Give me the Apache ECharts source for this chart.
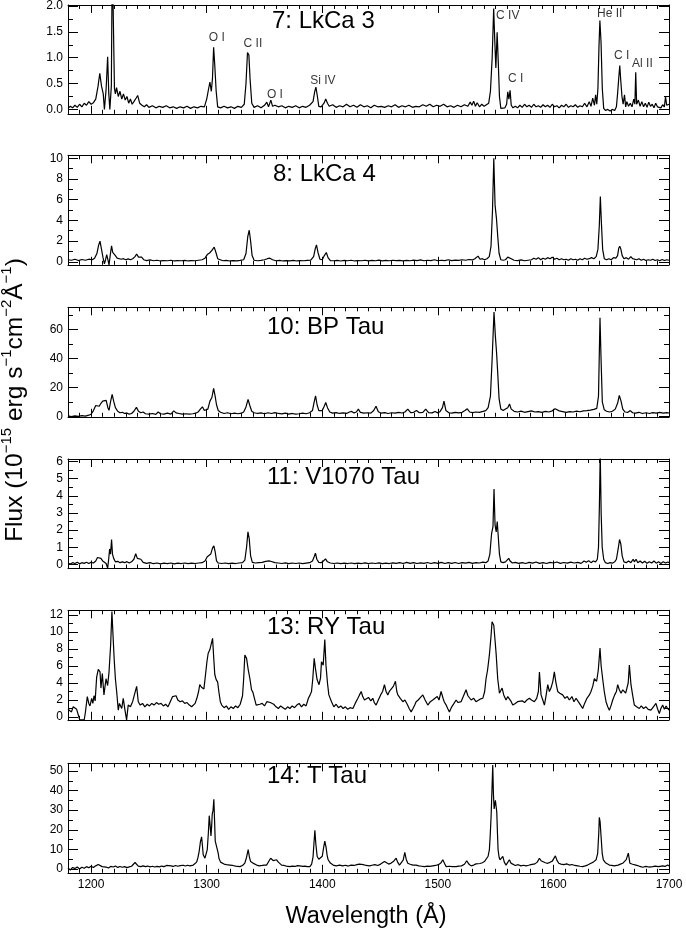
<!DOCTYPE html>
<html>
<head>
<meta charset="utf-8">
<title>FUV spectra</title>
<script src="https://cdn.jsdelivr.net/npm/echarts@6/dist/echarts.min.js"></script>
<style>
html, body { margin: 0; padding: 0; background: #fff; }
#chart { width: 686px; height: 933px; }
</style>
</head>
<body>
<div id="chart"></div>
<script>
// spectra: [wavelength (A), flux (1e-15 erg/s/cm2/A)]
const lkca3 = [
  [1180,0.02],[1182,0.06],[1184,0.03],[1186,0.08],[1188,0.04],[1190,0.1],[1192,0.05],[1194,0.12],[1196,0.08],[1198,0.15],
  [1200,0.1],[1202,0.13],[1204,0.2],[1206,0.45],[1207.5,0.7],[1209,0.45],[1210.5,0.3],[1211.5,0.0],[1213,0.4],[1214.3,1.02],
  [1215.3,0.3],[1216.2,0.0],[1217.5,0.45],[1218.3,3.0],[1219.3,3.0],[1220.2,0.4],[1221,0.3],[1222,0.42],[1223.5,0.25],[1225,0.35],
  [1226.5,0.2],[1228,0.3],[1229.5,0.18],[1231,0.25],[1232.5,0.12],[1234,0.2],[1235.5,0.1],[1237,0.15],[1239,0.22],[1240.3,0.27],
  [1242,0.12],[1244,0.08],[1246,0.05],[1248,0.09],[1250,0.04],[1253,0.07],[1256,0.03],[1259,0.06],[1262,0.04],[1265,0.07],
  [1268,0.03],[1271,0.05],[1274,0.02],[1277,0.05],[1280,0.03],[1283,0.06],[1286,0.02],[1289,0.05],[1292,0.03],[1295,0.06],
  [1298,0.05],[1300,0.2],[1301.5,0.38],[1302.8,0.53],[1304,0.35],[1305,0.6],[1306,1.2],[1307,0.85],[1308.2,0.35],[1309.5,0.05],
  [1312,0.03],[1315,0.06],[1318,0.03],[1321,0.05],[1324,0.02],[1327,0.06],[1330,0.04],[1332.5,0.1],[1334,0.5],[1335.3,1.1],
  [1336.5,1.05],[1337.5,0.6],[1339,0.12],[1341,0.04],[1344,0.07],[1347,0.03],[1350,0.08],[1352,0.14],[1353.5,0.05],[1355.5,0.18],
  [1357,0.06],[1359,0.08],[1362,0.05],[1365,0.07],[1368,0.03],[1371,0.06],[1374,0.04],[1377,0.07],[1380,0.03],[1383,0.06],
  [1386,0.04],[1389,0.08],[1392,0.15],[1393.5,0.35],[1394.5,0.43],[1395.8,0.25],[1397,0.06],[1399,0.05],[1401.5,0.12],[1403,0.2],
  [1404.5,0.12],[1406,0.06],[1409,0.09],[1412,0.04],[1415,0.07],[1418,0.05],[1421,0.1],[1424,0.05],[1427,0.08],[1430,0.04],
  [1433,0.09],[1436,0.05],[1439,0.07],[1442,0.03],[1445,0.08],[1448,0.05],[1451,0.06],[1454,0.04],[1457,0.07],[1460,0.05],
  [1463,0.09],[1466,0.04],[1469,0.07],[1472,0.05],[1475,0.08],[1478,0.04],[1481,0.06],[1484,0.05],[1487,0.09],[1490,0.06],
  [1493,0.1],[1496,0.05],[1499,0.08],[1502,0.06],[1505,0.1],[1508,0.05],[1511,0.07],[1514,0.04],[1517,0.08],[1520,0.05],
  [1523,0.09],[1526,0.06],[1528,0.14],[1529.5,0.08],[1531,0.16],[1532.5,0.06],[1534,0.13],[1536,0.05],[1538,0.1],[1540,0.06],
  [1542,0.09],[1544,0.12],[1545.5,0.35],[1547,1.0],[1548.3,1.95],[1549.3,1.3],[1550.2,0.8],[1551.3,1.49],[1552.3,0.9],[1553.3,0.25],
  [1554.5,0.02],[1556,0.04],[1558,0.03],[1559.5,0.1],[1560.5,0.34],[1561.5,0.2],[1562.5,0.37],[1563.5,0.08],[1565,0.03],[1567,0.06],
  [1569,0.03],[1571,0.08],[1573,0.04],[1575,0.1],[1577,0.05],[1579,0.08],[1581,0.04],[1583,0.1],[1585,0.05],[1587,0.07],
  [1589,0.04],[1591,0.09],[1593,0.05],[1595,0.08],[1597,0.04],[1599,0.1],[1601,0.05],[1603,0.07],[1605,0.03],[1607,0.08],
  [1609,0.05],[1611,0.1],[1613,0.04],[1615,0.07],[1617,0.05],[1619,0.09],[1621,0.04],[1623,0.07],[1625,0.05],[1627,0.12],
  [1629,0.05],[1631,0.15],[1632.5,0.06],[1634,0.22],[1635.5,0.08],[1636.5,0.28],[1637.5,0.1],[1638.5,0.4],[1639.4,1.2],[1640.2,1.72],
  [1641.2,1.3],[1642.3,0.4],[1643.5,0.02],[1645,-0.02],[1647,0.0],[1649,-0.03],[1651,0.0],[1653,-0.02],[1654.5,0.05],[1655.5,0.3],
  [1656.5,0.6],[1657.4,0.85],[1658.3,0.55],[1659.3,0.25],[1660.3,0.1],[1661.5,0.28],[1662.5,0.05],[1663.5,0.15],[1665,0.06],[1666.5,0.12],
  [1668,0.05],[1669.5,0.2],[1670.5,0.1],[1671.2,0.72],[1672,0.1],[1673.5,0.18],[1675,0.06],[1676.5,0.15],[1678,0.05],[1679.5,0.12],
  [1681,0.04],[1682.5,0.14],[1684,0.06],[1685.5,0.1],[1687,0.03],[1688.5,0.12],[1690,0.05],[1691.5,0.08],[1693,0.03],[1694.5,0.09],
  [1696,0.05],[1697,0.25],[1698,0.08],[1700,0.1]
];
const lkca4 = [
  [1180,0.2],[1183,0.15],[1186,0.25],[1189,0.12],[1192,0.22],[1195,0.15],[1198,0.25],[1201,0.2],[1203,0.35],[1205,0.8],
  [1206.5,1.6],[1207.7,2.0],[1209,1.2],[1210.3,0.4],[1211.5,-0.2],[1212.5,0.2],[1213.5,0.7],[1214.5,0.2],[1215.5,-0.3],[1216.5,0.6],
  [1217.7,1.55],[1218.7,0.9],[1219.8,1.0],[1221,0.6],[1222.5,0.35],[1224,0.4],[1226,0.25],[1228,0.3],[1230,0.2],[1232,0.28],
  [1234,0.2],[1236,0.3],[1238,0.5],[1239.4,0.75],[1241,0.45],[1242.5,0.35],[1243.7,0.45],[1245.5,0.2],[1248,0.12],[1251,0.18],
  [1254,0.1],[1257,0.15],[1260,0.08],[1263,0.12],[1266,0.1],[1269,0.15],[1272,0.08],[1275,0.12],[1278,0.1],[1281,0.14],
  [1284,0.08],[1287,0.12],[1290,0.1],[1293,0.15],[1296,0.2],[1298.5,0.35],[1300.5,0.7],[1302.5,0.85],[1304.5,1.1],[1306.5,1.42],
  [1308,0.9],[1309.5,0.3],[1311,0.12],[1314,0.1],[1317,0.14],[1320,0.08],[1323,0.12],[1326,0.09],[1329,0.13],[1332,0.2],
  [1334,0.8],[1335.5,2.4],[1336.8,3.05],[1338,2.0],[1339.3,0.6],[1341,0.15],[1344,0.1],[1347,0.14],[1350,0.2],[1352.5,0.3],
  [1354.7,0.35],[1357,0.2],[1360,0.1],[1363,0.14],[1366,0.08],[1369,0.12],[1372,0.09],[1375,0.13],[1378,0.08],[1381,0.12],
  [1384,0.1],[1387,0.14],[1390,0.15],[1392.5,0.5],[1394,1.3],[1395,1.64],[1396.3,0.9],[1398,0.25],[1400,0.2],[1401.8,0.6],
  [1403.5,0.9],[1405,0.4],[1407,0.12],[1410,0.1],[1413,0.14],[1416,0.08],[1419,0.13],[1422,0.1],[1425,0.15],[1428,0.08],
  [1431,0.12],[1434,0.1],[1437,0.15],[1440,0.09],[1443,0.13],[1446,0.1],[1449,0.16],[1452,0.09],[1455,0.13],[1458,0.1],
  [1461,0.15],[1464,0.11],[1467,0.14],[1470,0.09],[1473,0.14],[1476,0.1],[1479,0.16],[1482,0.12],[1485,0.18],[1488,0.1],
  [1491,0.15],[1494,0.12],[1497,0.2],[1500,0.1],[1503,0.15],[1506,0.12],[1509,0.2],[1512,0.12],[1515,0.17],[1518,0.13],
  [1521,0.2],[1524,0.15],[1527,0.22],[1530,0.18],[1532,0.3],[1534.8,0.55],[1536.5,0.25],[1538.5,0.3],[1540.5,0.2],[1542.5,0.3],
  [1544.5,0.5],[1546,1.5],[1547.3,5.0],[1548.4,10.0],[1549.5,5.5],[1550.7,4.2],[1551.8,2.5],[1553,0.8],[1554.5,0.2],[1556.5,0.15],
  [1558.5,0.2],[1560.5,0.45],[1562,0.6],[1563.5,0.3],[1566,0.15],[1569,0.12],[1572,0.18],[1575,0.1],[1578,0.15],[1581,0.2],
  [1583,0.35],[1585,0.25],[1587,0.4],[1589,0.2],[1591,0.35],[1593,0.25],[1595,0.4],[1597,0.3],[1599,0.45],[1601,0.25],
  [1603,0.35],[1605,0.2],[1607,0.3],[1609,0.2],[1611,0.25],[1613,0.15],[1615,0.3],[1617,0.2],[1619,0.25],[1621,0.15],
  [1623,0.3],[1625,0.2],[1627,0.35],[1629,0.25],[1631,0.3],[1633,0.4],[1635,0.3],[1637,0.5],[1638.5,1.2],[1639.7,3.5],
  [1640.6,6.3],[1641.5,3.8],[1642.6,1.2],[1644,0.3],[1646,0.2],[1648,0.3],[1650,0.2],[1652,0.4],[1654,0.35],[1655.5,0.6],
  [1656.5,1.3],[1657.4,1.5],[1658.3,1.25],[1659.5,0.6],[1661,0.3],[1663,0.4],[1665,0.25],[1667,0.5],[1668.5,0.3],[1670,0.45],
  [1672,0.2],[1674,0.3],[1676,0.15],[1678,0.25],[1680,0.12],[1682,0.2],[1684,0.15],[1686,0.25],[1688,0.12],[1690,0.2],
  [1692,0.1],[1694,0.22],[1696,0.12],[1698,0.2],[1700,0.15]
];
const bpTau = [
  [1180,0.3],[1183,-0.2],[1186,0.4],[1189,0.0],[1192,0.5],[1195,0.2],[1198,0.8],[1200,1.5],[1202,4.0],[1204,7.5],
  [1205.5,8.0],[1207,7.0],[1208.5,9.0],[1210,10.5],[1211.5,11.5],[1213,11.0],[1214.5,6.0],[1215.5,4.2],[1216.8,10],[1218.2,15.2],
  [1219.5,10.5],[1221,6.0],[1223,3.5],[1225,2.5],[1227,2.8],[1229,2.0],[1231,2.2],[1233,1.5],[1235,2.0],[1237,3.5],
  [1239.2,6.2],[1241,3.5],[1243,2.5],[1245,3.0],[1247,1.8],[1250,1.5],[1253,2.0],[1256,1.4],[1258,3.0],[1260,1.8],
  [1263,1.5],[1266,2.2],[1269,1.6],[1271.5,3.8],[1273.5,2.4],[1276,2.0],[1279,1.5],[1282,1.8],[1285,1.5],[1288,1.8],
  [1290.5,2.2],[1292.5,3.0],[1294.5,5.0],[1296.3,6.6],[1298,4.0],[1299.5,3.0],[1301,5.0],[1302.8,10.5],[1304.5,13.0],[1306,19.3],
  [1307.3,14.0],[1308.5,8.0],[1310,4.0],[1312,2.8],[1315,2.0],[1318,2.5],[1321,1.8],[1324,2.2],[1327,1.8],[1330,2.2],
  [1332,3.0],[1334,6.5],[1335.8,11.7],[1337.3,7.5],[1339,3.5],[1341,2.5],[1344,2.0],[1347,2.4],[1350,1.8],[1353,2.5],
  [1356,2.0],[1359,2.6],[1362,2.0],[1365,1.7],[1368,2.2],[1371,1.6],[1374,2.0],[1377,1.5],[1380,1.8],[1383,2.2],
  [1386,1.8],[1389,2.5],[1391.5,4.0],[1393,10.0],[1394.2,14.2],[1395.5,8.0],[1397,4.0],[1398.5,3.0],[1400,4.0],[1401.7,7.0],
  [1403,9.6],[1404.5,6.0],[1406.5,3.0],[1409,2.2],[1412,2.6],[1415,2.0],[1418,2.4],[1421,2.0],[1423.5,3.0],[1425.5,3.4],
  [1427.5,2.4],[1429.5,3.0],[1431.2,5.0],[1433,2.8],[1436,2.2],[1439,2.5],[1442,2.2],[1444.5,4.0],[1446.5,7.0],[1448.5,3.2],
  [1451,2.2],[1454,2.6],[1457,2.0],[1460,2.5],[1463,2.2],[1466,2.8],[1469,2.3],[1471.5,3.0],[1474,5.0],[1476.5,2.6],
  [1479,2.8],[1481.5,4.0],[1484,2.5],[1487,2.7],[1489.5,5.0],[1492,2.6],[1495,2.4],[1497.5,3.4],[1500,2.4],[1502,3.4],
  [1504,6.0],[1505.3,10.5],[1507,4.0],[1509.5,2.5],[1512,2.2],[1515,2.8],[1518,2.4],[1521,2.8],[1523.5,4.0],[1525.5,5.2],
  [1527.5,3.0],[1530,2.6],[1533,3.0],[1536,2.8],[1539,3.4],[1541.5,4.0],[1543.5,6.0],[1545.5,14],[1547,40],[1548.6,72],
  [1549.8,55],[1550.8,44],[1551.8,30],[1553,12],[1554.5,5.0],[1556.5,4.0],[1558.5,5.0],[1560.5,6.0],[1562,8.5],[1563.5,5.0],
  [1566,3.5],[1569,3.0],[1572,3.6],[1575,2.8],[1578,3.3],[1581,3.8],[1584,3.0],[1587,3.3],[1590,2.8],[1593,3.4],
  [1596,3.0],[1599,3.8],[1601.5,5.2],[1603,6.2],[1605,3.8],[1608,3.3],[1611,2.8],[1614,3.3],[1617,3.0],[1620,3.6],
  [1623,3.2],[1626,3.8],[1629,4.0],[1632,4.3],[1635,4.8],[1637.5,5.5],[1639,14],[1640.3,68],[1641.2,40],[1642.3,10],
  [1644,4.5],[1646,3.5],[1648.5,3.0],[1651,3.5],[1653.5,5.0],[1655.5,9.0],[1657,14.5],[1658.5,10.5],[1660,5.0],[1662,3.0],
  [1664.5,2.8],[1666.5,4.0],[1668.5,2.5],[1671,2.2],[1674,2.8],[1677,2.0],[1680,2.5],[1683,2.0],[1686,2.6],[1689,2.2],
  [1692,2.8],[1695,2.2],[1698,2.6],[1700,2.3]
];
const v1070Tau = [
  [1180,0.08],[1182,0.02],[1184,0.1],[1186,0.05],[1188,0.12],[1190,0.03],[1192,0.1],[1194,0.06],[1196,0.13],[1198,0.05],
  [1200,0.12],[1202,0.08],[1204,0.2],[1205.5,0.4],[1207,0.47],[1208.5,0.35],[1210,0.2],[1211.5,0.25],[1213,0.05],[1214.3,-0.22],
  [1215.2,0.3],[1216,0.9],[1216.8,0.6],[1217.7,1.45],[1218.5,0.6],[1219.5,0.35],[1221,0.15],[1223,0.18],[1225,0.1],[1227,0.15],
  [1229,0.1],[1231,0.16],[1233,0.08],[1235,0.15],[1237,0.3],[1238.6,0.62],[1240,0.35],[1241.5,0.25],[1243,0.3],[1245,0.12],
  [1248,0.06],[1251,0.1],[1254,0.04],[1257,0.08],[1260,0.03],[1263,0.07],[1266,0.04],[1269,0.08],[1272,0.03],[1275,0.07],
  [1278,0.05],[1281,0.08],[1284,0.04],[1287,0.07],[1290,0.05],[1293,0.08],[1296,0.1],[1298.5,0.2],[1300.5,0.45],[1302,0.55],
  [1303.5,0.6],[1305,0.95],[1306.2,1.08],[1307.3,0.75],[1308.5,0.2],[1310,0.08],[1313,0.05],[1316,0.08],[1319,0.04],[1322,0.07],
  [1325,0.05],[1328,0.08],[1331,0.1],[1333,0.25],[1334.5,1.0],[1335.7,1.9],[1336.8,1.5],[1338,0.5],[1339.5,0.12],[1342,0.08],
  [1345,0.1],[1348,0.12],[1351,0.18],[1354,0.2],[1356,0.17],[1359,0.1],[1362,0.08],[1365,0.05],[1368,0.09],[1371,0.04],
  [1374,0.08],[1377,0.05],[1380,0.08],[1383,0.04],[1386,0.07],[1389,0.1],[1391.5,0.2],[1393,0.45],[1394.1,0.66],[1395.3,0.3],
  [1397,0.12],[1399,0.1],[1401,0.2],[1402.8,0.32],[1404.5,0.15],[1407,0.08],[1410,0.05],[1413,0.08],[1416,0.04],[1419,0.07],
  [1422,0.05],[1425,0.08],[1428,0.04],[1431,0.07],[1434,0.05],[1437,0.09],[1440,0.04],[1443,0.08],[1446,0.05],[1449,0.09],
  [1452,0.04],[1455,0.07],[1458,0.05],[1461,0.09],[1464,0.06],[1467,0.1],[1470,0.05],[1473,0.12],[1476,0.06],[1479,0.1],
  [1482,0.05],[1485,0.09],[1488,0.06],[1491,0.11],[1494,0.05],[1497,0.1],[1500,0.06],[1503,0.12],[1506,0.05],[1509,0.1],
  [1512,0.06],[1515,0.11],[1518,0.05],[1521,0.1],[1524,0.07],[1527,0.12],[1530,0.06],[1533,0.1],[1536,0.08],[1539,0.13],
  [1541.5,0.1],[1543.5,0.2],[1545,0.6],[1546.5,1.8],[1547.7,2.2],[1548.6,4.4],[1549.5,2.3],[1550.5,1.9],[1551.4,2.5],[1552.3,1.6],
  [1553.3,0.6],[1554.5,0.15],[1556.5,0.1],[1558.5,0.15],[1560,0.25],[1561.3,0.35],[1562.5,0.2],[1564.5,0.08],[1567,0.12],[1570,0.06],
  [1573,0.1],[1576,0.05],[1579,0.12],[1582,0.07],[1585,0.14],[1588,0.06],[1591,0.1],[1594,0.05],[1597,0.12],[1600,0.08],
  [1603,0.14],[1606,0.06],[1609,0.11],[1612,0.07],[1615,0.13],[1618,0.08],[1621,0.12],[1624,0.06],[1626.5,0.2],[1628.5,0.12],
  [1630.5,0.22],[1632.5,0.1],[1634.5,0.2],[1636.5,0.15],[1638,0.3],[1639,1.0],[1639.8,3.5],[1640.5,6.5],[1641.3,3.0],[1642.2,1.0],
  [1643.5,0.3],[1645,0.1],[1647,0.05],[1649,0.1],[1651,0.07],[1653,0.15],[1654.5,0.3],[1656,0.9],[1657.2,1.45],[1658.3,1.2],
  [1659.5,0.5],[1661,0.15],[1663,0.1],[1665,0.2],[1667,0.1],[1669,0.3],[1670,0.15],[1671.5,0.3],[1673,0.1],[1675,0.2],
  [1677,0.08],[1679,0.18],[1681,0.06],[1683,0.15],[1685,0.08],[1687,0.2],[1689,0.07],[1691,0.15],[1693,0.05],[1695,0.16],
  [1697,0.08],[1699,0.14],[1700,0.1]
];
const ryTau = [
  [1180,0.9],[1181.5,1.1],[1183,0.6],[1184.5,1.2],[1186,1.4],[1187.5,0.9],[1189,1.1],[1190.2,-0.35],[1192,-0.35],[1194,-0.35],
  [1195,0.5],[1196.7,2.4],[1198,1.6],[1199,1.3],[1200.5,2.2],[1201.5,1.6],[1202.5,2.5],[1203.5,1.9],[1204.8,4.7],[1206.2,5.6],
  [1207.7,5.3],[1208.5,3.4],[1209.7,5.1],[1211.1,2.6],[1212.9,4.5],[1214.3,3.7],[1215.5,5.3],[1216.9,8.5],[1218,12.4],[1219.2,8.9],
  [1220,6.7],[1221,4.5],[1222.1,3.0],[1223.5,0.8],[1224.5,1.6],[1225.5,1.8],[1226.5,1.0],[1227.8,2.2],[1229.3,0.8],[1230.7,-0.35],
  [1232.1,1.4],[1234,1.2],[1235.9,1.8],[1237.5,2.0],[1239.4,3.6],[1240.8,1.8],[1242.5,1.4],[1244.5,1.6],[1246.5,1.2],[1248.5,1.5],
  [1250.5,1.3],[1252.5,1.6],[1254.5,1.4],[1256.5,1.7],[1258.5,1.5],[1260.5,1.6],[1262.5,1.3],[1264.5,1.5],[1266.5,1.2],[1268.5,1.8],
  [1270.5,2.4],[1272,2.2],[1273.5,2.5],[1275,2.0],[1277,1.8],[1279,1.9],[1281,1.6],[1283,1.7],[1285,1.4],[1287,1.2],
  [1288.4,1.0],[1290,1.6],[1291.5,2.2],[1293,3.0],[1294,3.8],[1295.5,3.5],[1297.6,3.3],[1299,5.0],[1300.2,6.5],[1301.3,7.5],
  [1302.7,7.9],[1304,8.0],[1305.1,9.25],[1306.2,6.7],[1307,5.0],[1308.2,4.4],[1309.5,4.1],[1310.5,3.0],[1311.8,1.8],[1313,1.4],
  [1315,1.1],[1317,1.3],[1319,0.9],[1321,1.2],[1323,1.0],[1325,1.3],[1327,1.1],[1329,1.5],[1331,2.5],[1332,4.5],
  [1333,7.3],[1334.5,6.9],[1336,5.5],[1337.4,4.5],[1338.8,3.2],[1340,2.9],[1341.5,3.0],[1342.8,1.4],[1344.5,1.2],[1346,1.5],
  [1348,1.6],[1350,1.3],[1352,1.8],[1353.5,2.0],[1355,1.7],[1356.5,1.9],[1358,1.5],[1360,1.2],[1362,1.0],[1364,1.3],
  [1366,1.1],[1368,0.9],[1370,1.2],[1372,1.0],[1374,1.3],[1376,1.1],[1378,1.4],[1380,1.6],[1382,1.2],[1384,1.5],
  [1386,1.3],[1388,2.2],[1389.5,2.6],[1390.7,3.0],[1391.8,4.5],[1393,6.9],[1394,5.8],[1395.5,4.4],[1397.2,3.8],[1398.5,4.6],
  [1399.3,6.5],[1400.8,6.1],[1402.2,9.1],[1403.2,6.1],[1404.5,4.0],[1405.7,2.6],[1408,1.8],[1410,1.2],[1412,1.5],[1414,1.1],
  [1416,1.3],[1418,1.0],[1420,1.2],[1422,0.9],[1424,1.1],[1426.5,1.0],[1428.5,1.6],[1430.8,2.2],[1432.2,2.6],[1433.7,3.0],
  [1435,2.4],[1436.5,2.0],[1438,2.0],[1440,2.3],[1442,1.9],[1443.7,2.2],[1445,1.7],[1446.6,1.4],[1448.5,2.0],[1450.5,2.6],
  [1452.2,3.0],[1453.8,3.8],[1455.2,3.0],[1456.7,2.6],[1458,3.0],[1459.6,3.2],[1461.5,3.6],[1463.3,4.2],[1464.5,3.0],[1465.4,2.6],
  [1467.5,2.2],[1469.7,1.8],[1471.5,2.0],[1473.5,1.5],[1475.2,1.0],[1476.9,0.6],[1478.5,1.0],[1480,1.4],[1481.2,1.8],[1483,2.0],
  [1485,2.3],[1487,2.6],[1489,2.0],[1491.3,1.4],[1493.5,1.8],[1495.6,2.0],[1497.5,2.2],[1499.5,2.4],[1501,2.0],[1502.8,3.0],
  [1504.5,2.2],[1505.5,1.8],[1507.2,1.4],[1508.5,1.0],[1510,0.6],[1512,1.2],[1514,1.6],[1515.8,2.0],[1517.5,1.7],[1520.1,1.8],
  [1522,2.4],[1524.4,3.2],[1526,2.5],[1528.8,2.0],[1531,2.2],[1533,1.8],[1534.5,1.8],[1536.5,2.1],[1538.9,2.2],[1540.5,3.0],
  [1541.7,4.5],[1543,5.5],[1544.6,7.3],[1546,9.5],[1546.9,11.2],[1548.4,10.8],[1549.5,9.0],[1550.4,7.5],[1551.8,4.5],[1553.3,2.8],
  [1554.5,2.6],[1555.6,3.4],[1557,2.6],[1559,2.0],[1560.5,2.4],[1561.9,2.6],[1563.5,1.8],[1564.8,1.4],[1567,1.6],[1569,1.8],
  [1570.6,1.6],[1573,1.9],[1575,1.7],[1577,2.0],[1579.2,2.2],[1581,2.0],[1583.5,1.8],[1585.5,2.2],[1587,3.0],[1587.9,5.3],
  [1589.3,2.6],[1590.8,2.0],[1592.2,1.4],[1593.5,2.4],[1595.1,3.8],[1596.5,3.0],[1597.9,3.4],[1599.5,4.2],[1600.8,5.3],[1602.2,4.0],
  [1603.7,3.0],[1605.5,2.8],[1608,2.6],[1610,2.2],[1612,2.4],[1613.8,2.0],[1616,2.4],[1617.8,1.8],[1619.6,2.2],[1621.5,1.8],
  [1623.5,1.4],[1625.3,1.0],[1627,1.6],[1629,2.2],[1631.1,2.6],[1632.5,3.0],[1634,3.6],[1635.4,4.5],[1637.4,4.2],[1638.8,5.5],
  [1640.3,8.1],[1641.3,6.0],[1642.6,4.5],[1644,3.0],[1645.5,1.8],[1647,1.2],[1648.4,0.8],[1650,1.4],[1651.3,2.0],[1653,2.6],
  [1654.5,3.0],[1655.6,3.8],[1657,3.2],[1658.5,2.8],[1660,3.2],[1661.4,3.0],[1662.5,2.8],[1663.4,2.6],[1664.7,4.0],[1665.7,6.1],
  [1667.1,3.8],[1668.5,2.6],[1670,1.4],[1672,1.2],[1674.3,1.0],[1676,1.3],[1678,1.0],[1680.1,1.2],[1682,0.9],[1684.4,0.8],
  [1686.5,1.2],[1688.7,1.6],[1690,1.0],[1691.6,0.4],[1693,1.0],[1694.5,1.4],[1696,0.9],[1697.5,1.3],[1698.8,1.0],[1700,0.8]
];
const tTau = [
  [1180,0.5],[1182,-0.5],[1184,0.8],[1186,0.2],[1188,1.0],[1190,0.0],[1192,0.9],[1194,0.4],[1196,1.2],[1198,0.6],
  [1200,1.4],[1202,0.8],[1204,1.6],[1206.2,2.3],[1207.7,1.8],[1209.5,1.2],[1211,0.6],[1213,1.0],[1215,0.5],[1217,1.3],
  [1219.2,1.0],[1221,1.5],[1223,0.8],[1225,1.3],[1227,0.9],[1229,1.2],[1231,0.7],[1233,1.1],[1235,1.4],[1236.5,2.2],
  [1238,3.3],[1239.5,2.5],[1240.8,1.5],[1243,1.2],[1245,1.6],[1247,1.2],[1249,1.5],[1251,1.1],[1253,1.4],[1255,1.0],
  [1257,1.3],[1259,1.1],[1261,1.5],[1263,1.2],[1265.3,1.8],[1267,1.3],[1269,1.6],[1271,1.3],[1273,1.8],[1275,1.4],
  [1277,1.7],[1279.7,1.9],[1281.5,1.5],[1283.5,1.9],[1285.5,1.6],[1287,2.2],[1288.4,2.0],[1289.8,2.5],[1291.3,3.5],[1292.5,6.0],
  [1293.5,9.0],[1294.6,14],[1295.6,16.4],[1296.3,12],[1297,7.3],[1298.5,5.5],[1299.5,6.5],[1300.5,9.9],[1301.4,18],[1302.2,27.2],
  [1303,22],[1303.7,16.8],[1304.3,22],[1304.8,28],[1305.5,30],[1306.2,35.5],[1306.8,25],[1307.4,14.2],[1308.2,15],[1309.1,13.3],
  [1310,8.0],[1310.6,5.5],[1312,3.5],[1312.9,2.9],[1315,2.5],[1317,2.2],[1320.1,2.0],[1322.5,1.8],[1325,1.5],[1328.7,1.2],
  [1331,1.8],[1333,3.0],[1334.5,6.0],[1335.9,9.9],[1337,6.0],[1338,3.8],[1340,3.0],[1341.5,2.5],[1343.2,2.0],[1345.5,1.6],
  [1348,1.8],[1350,2.0],[1351.8,2.0],[1353,3.2],[1354.2,4.0],[1355.3,5.5],[1356.5,4.5],[1357.5,4.3],[1359,4.0],[1360.5,4.7],
  [1362,3.5],[1363.5,2.5],[1364.8,2.0],[1367,1.8],[1369,1.5],[1372,1.2],[1374,1.5],[1376.5,1.3],[1378.5,1.7],[1380.6,1.6],
  [1383,1.3],[1385,1.5],[1387,1.2],[1389.3,1.2],[1390.8,2.5],[1392,6.0],[1392.8,13],[1393.6,19.7],[1394.4,13],[1395.6,6.4],
  [1397,5.0],[1398.5,4.7],[1400,6.5],[1401.2,11],[1402.2,14.2],[1403.3,11],[1404.2,7.0],[1405.1,4.7],[1407,3.0],[1409.4,2.0],
  [1412,1.6],[1415,2.0],[1417.8,1.6],[1420,1.9],[1422.5,1.5],[1425,2.0],[1427.5,1.8],[1430,2.2],[1432,2.5],[1433.7,2.9],
  [1435.5,2.2],[1438,1.8],[1440.9,1.6],[1443,1.9],[1445.5,2.2],[1448.1,1.8],[1450.5,2.5],[1452.2,3.0],[1453.8,3.8],[1455.5,2.8],
  [1457.5,2.5],[1459.6,3.0],[1461.5,3.8],[1463.9,5.5],[1465.2,3.5],[1466.8,2.0],[1468.5,2.5],[1470,4.5],[1471.4,8.5],[1472.6,5.0],
  [1474,2.9],[1476,2.4],[1478.5,2.0],[1481.2,2.0],[1483.5,1.6],[1486,1.4],[1488.4,1.2],[1491,1.5],[1493,1.3],[1495.6,1.6],
  [1498,1.8],[1500.5,2.2],[1502.5,3.0],[1504.3,4.7],[1505.8,2.8],[1507.2,1.2],[1510,1.4],[1512.5,1.2],[1515.8,1.2],[1518,1.5],
  [1520.5,1.6],[1523,2.4],[1525,4.2],[1526.8,2.5],[1528.8,1.6],[1531,2.0],[1533,2.6],[1534.5,3.3],[1536.5,2.8],[1538.5,3.2],
  [1540.3,3.8],[1542,4.5],[1543.5,6.5],[1544.6,9.9],[1545.3,17],[1546.1,27.2],[1546.8,40],[1547.5,53],[1548.1,38],[1548.7,30.6],
  [1549.3,33],[1549.8,35],[1550.4,32],[1551,28.9],[1551.6,18],[1552.1,9.9],[1553,6.0],[1553.8,4.7],[1555,5.0],[1556.2,6.4],
  [1557.5,3.5],[1559,2.0],[1560.5,3.0],[1561.9,4.7],[1563.2,3.0],[1564.8,2.0],[1567,1.8],[1569.5,2.2],[1572,1.6],[1574,1.9],
  [1576.3,1.6],[1578.5,1.9],[1580.5,2.2],[1582.1,2.0],[1584,2.6],[1586,3.5],[1587.9,5.5],[1589.3,4.2],[1590.7,3.8],[1593,3.2],
  [1595.1,2.9],[1597,3.4],[1599,4.0],[1600.5,5.0],[1601.7,6.7],[1603,4.5],[1604.6,2.9],[1606.5,2.5],[1609,2.2],[1611.5,2.6],
  [1613.8,2.0],[1616,2.3],[1618.5,1.8],[1621,1.6],[1623,1.4],[1625.3,1.2],[1627.5,1.6],[1629.5,2.0],[1631,2.6],[1632.5,2.9],
  [1634.5,3.5],[1636.9,4.7],[1638.3,8.0],[1639.2,18],[1639.7,26.3],[1640.4,24],[1641.2,16.8],[1642.2,8.0],[1643.2,4.7],[1645,3.2],
  [1646.5,2.5],[1648.4,2.0],[1650.5,1.8],[1652.5,1.6],[1654.1,1.6],[1656,2.0],[1658,2.5],[1659.9,2.9],[1661.5,3.5],[1663,4.8],
  [1664.8,8.1],[1666.2,2.9],[1668.5,2.4],[1671.4,2.0],[1674,1.5],[1677.2,0.9],[1680,1.3],[1682.5,1.0],[1685.9,1.2],[1688,1.5],
  [1691,1.2],[1694.5,1.6],[1696.5,1.3],[1698.8,2.0],[1700,1.5]
];

const spectra = [lkca3, lkca4, bpTau, v1070Tau, ryTau, tTau];
const panelNames = ['7: LkCa 3', '8: LkCa 4', '10: BP Tau', '11: V1070 Tau', '13: RY Tau', '14: T Tau'];

// y axis: range, labelled ticks, small ticks
const yRanges = [[-0.085, 2.02], [-0.29, 10.29], [-0.3, 75.2], [-0.24, 6.15], [-0.33, 12.55], [-1.94, 53.9]];
const yMajor = [[0, 0.5, 1, 1.5, 2], [0, 2, 4, 6, 8, 10], [0, 20, 40, 60], [0, 1, 2, 3, 4, 5, 6], [0, 2, 4, 6, 8, 10, 12], [0, 10, 20, 30, 40, 50]];
const yMinor = [[0.25, 0.75, 1.25, 1.75], [1, 3, 5, 7, 9], [10, 30, 50, 70], [0.5, 1.5, 2.5, 3.5, 4.5, 5.5], [1, 3, 5, 7, 9, 11], [5, 15, 25, 35, 45]];
const xMajor = [1200, 1300, 1400, 1500, 1600, 1700];
const xMinor = [];
for (let w = 1180; w <= 1700; w += 10) { if (w % 100 !== 0) xMinor.push(w); }

// line identifications in the LkCa 3 panel: [wavelength, flux, label]
const lineIds = [
  [1308.8, 1.39, 'O I'], [1340, 1.275, 'C II'], [1359, 0.29, 'O I'], [1400.5, 0.56, 'Si IV'],
  [1560.5, 1.81, 'C IV'], [1567.4, 0.6, 'C I'], [1648.7, 1.85, 'He II'], [1659, 1.04, 'C I'], [1677, 0.89, 'Al II']
];

const FONT = 'Liberation Sans, Arial, Helvetica, sans-serif';
const gridTops = [4.3, 155.3, 307.3, 459, 610.3, 763.3];
const gridH = 109.5;
const titleY = [23.5, 176, 329, 479, 629.5, 778];
const titleX = [272, 273, 267, 267, 267, 267];

const chart = echarts.init(document.getElementById('chart'), null, { renderer: 'canvas' });

const grids = [], xAxes = [], yAxes = [], series = [], graphics = [];

function xAxis(i, pos, vals, len, main) {
  return {
    type: 'value', gridIndex: i, position: pos, min: 1180, max: 1700,
    axisLine: { show: main, onZero: false, lineStyle: { color: '#000', width: 1 } },
    axisTick: { show: true, inside: true, length: len, customValues: vals, lineStyle: { color: '#000', width: 1 } },
    axisLabel: {
      show: main && pos === 'bottom' && i === 5, customValues: vals,
      formatter: v => String(v),
      color: '#000', fontSize: 12, fontFamily: FONT, margin: 6
    },
    splitLine: { show: false }
  };
}
function yAxis(i, pos, vals, len, main) {
  return {
    type: 'value', gridIndex: i, position: pos, min: yRanges[i][0], max: yRanges[i][1],
    axisLine: { show: main, onZero: false, lineStyle: { color: '#000', width: 1 } },
    axisTick: { show: true, inside: true, length: len, customValues: vals, lineStyle: { color: '#000', width: 1 } },
    axisLabel: {
      show: main && pos === 'left', customValues: vals,
      formatter: v => (i === 0 ? v.toFixed(1) : String(v)),
      color: '#000', fontSize: 12, fontFamily: FONT, margin: 5
    },
    splitLine: { show: false }
  };
}

for (let i = 0; i < 6; i++) {
  grids.push({ left: 68, top: gridTops[i], width: 601, height: gridH });
  // 4 x axes per panel: bottom major/minor, top major/minor
  xAxes.push(xAxis(i, 'bottom', xMajor, 8, true));
  xAxes.push(xAxis(i, 'bottom', xMinor, 4, false));
  xAxes.push(xAxis(i, 'top', xMajor, 8, true));
  xAxes.push(xAxis(i, 'top', xMinor, 4, false));
  yAxes.push(yAxis(i, 'left', yMajor[i], 10, true));
  yAxes.push(yAxis(i, 'left', yMinor[i], 5, false));
  yAxes.push(yAxis(i, 'right', yMajor[i], 10, true));
  yAxes.push(yAxis(i, 'right', yMinor[i], 5, false));

  series.push({
    type: 'line', xAxisIndex: 4 * i, yAxisIndex: 4 * i,
    data: spectra[i], symbol: 'none', showSymbol: false, clip: true,
    lineStyle: { color: '#000', width: 1.2 }, silent: true
  });

  graphics.push({
    type: 'text', left: titleX[i], top: titleY[i] - 14,
    style: { text: panelNames[i], fontSize: 24, fontFamily: FONT, fill: '#000' }
  });
}

series.push({
  type: 'scatter', xAxisIndex: 0, yAxisIndex: 0, symbolSize: 1,
  itemStyle: { color: 'rgba(0,0,0,0)' }, silent: true,
  data: lineIds,
  label: { show: true, position: 'inside', formatter: p => p.data[2], color: '#000', fontSize: 12, fontFamily: FONT }
});

// axis titles
graphics.push({
  type: 'text', x: 15, y: 400, rotation: Math.PI / 2,
  style: {
    text: '{m|Flux (10}{s|\u221215}{m| erg s}{s|\u22121}{m|cm}{s|\u22122}{m|\u00c5}{s|\u22121}{m|)}',
    align: 'center', verticalAlign: 'middle', fill: '#000',
    rich: {
      m: { fontSize: 24.5, fontFamily: FONT, lineHeight: 31, fill: '#000' },
      s: { fontSize: 15, fontFamily: FONT, lineHeight: 17, verticalAlign: 'top', fill: '#000' }
    }
  }
});
graphics.push({
  type: 'text', x: 366, y: 917,
  style: { text: 'Wavelength (\u00c5)', fontSize: 23.5, fontFamily: FONT, fill: '#000', align: 'center', verticalAlign: 'middle' }
});

chart.setOption({
  animation: false,
  backgroundColor: '#fff',
  grid: grids,
  xAxis: xAxes,
  yAxis: yAxes,
  series: series,
  graphic: graphics
});
</script>
</body>
</html>
